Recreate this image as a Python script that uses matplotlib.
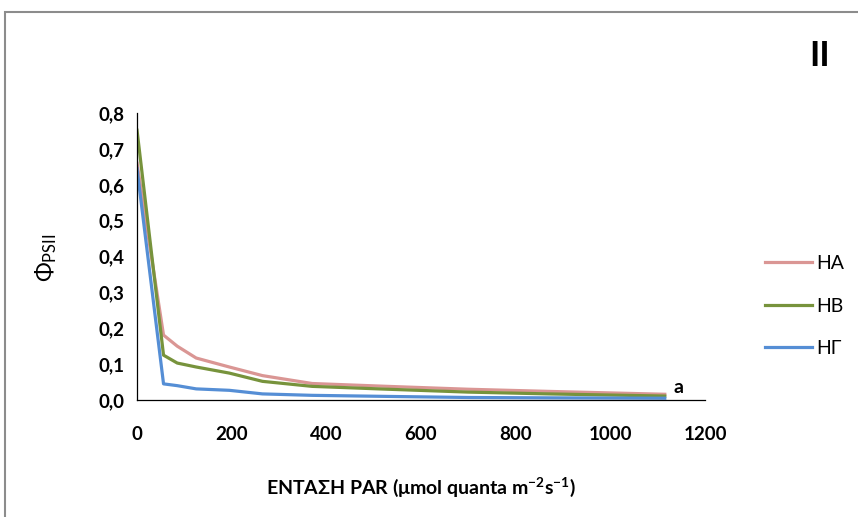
import matplotlib
matplotlib.use("Agg")
import matplotlib.pyplot as plt
from matplotlib.patches import Rectangle
from matplotlib.ticker import FuncFormatter

plt.rcParams['font.family'] = ['Lato', 'DejaVu Sans']
plt.rcParams['mathtext.default'] = 'regular'

# PAR intensity (umol quanta m-2 s-1)
par = [0, 56, 85, 125, 195, 265, 370, 530, 700, 870, 1115]
ha = [0.660, 0.181, 0.150, 0.117, 0.092, 0.068, 0.046, 0.038, 0.030, 0.024, 0.016]
hb = [0.752, 0.125, 0.103, 0.092, 0.075, 0.052, 0.038, 0.030, 0.022, 0.017, 0.011]
hg = [0.645, 0.045, 0.040, 0.031, 0.027, 0.017, 0.013, 0.010, 0.007, 0.006, 0.005]
labels = ['ΗΑ', 'ΗΒ', 'ΗΓ']
colors = ['#DA9694', '#77933C', '#558ED5']

fig = plt.figure(figsize=(8.58, 5.17), dpi=100)
ax = fig.add_axes([0.1597, 0.2263, 0.662, 0.5551])

for y, lab, c in zip([ha, hb, hg], labels, colors):
    ax.plot(par, y, color=c, lw=2.3, label=lab)

ax.set_xlim(0, 1200)
ax.set_ylim(0, 0.8)
ax.set_xticks(range(0, 1201, 200))
ax.set_yticks([i / 10 for i in range(9)])
ax.yaxis.set_major_formatter(FuncFormatter(lambda v, p: f"{v:.1f}".replace('.', ',')))
ax.tick_params(length=0, labelsize=13.5, pad=9)
for t in ax.get_xticklabels() + ax.get_yticklabels():
    t.set_fontweight('bold')
ax.tick_params(axis='x', pad=19)
for s in ['top', 'right']:
    ax.spines[s].set_visible(False)
for s in ['left', 'bottom']:
    ax.spines[s].set_color('black')
    ax.spines[s].set_linewidth(0.9)

fig.text(421 / 858, 1 - 487 / 517, 'ΕΝΤΑΣΗ PAR (μmol quanta m$^{-2}$s$^{-1}$)',
         ha='center', va='center', fontsize=14, fontweight='bold')
fig.text(46 / 858, 1 - 258 / 517, r'Φ$_{PSII}$', rotation=90,
         ha='center', va='center', fontsize=17)
fig.text(820 / 858, 1 - 56 / 517, 'II', ha='center', va='center',
         fontsize=25, fontweight='bold')
ax.text(1145, 0.012, 'a', ha='center', va='bottom', fontsize=14, fontweight='bold')

ax.legend(loc='center left', bbox_to_anchor=(765 / 858, 1 - 306 / 517),
          bbox_transform=fig.transFigure, borderpad=0, borderaxespad=0,
          frameon=False, fontsize=14, handlelength=2.4, handletextpad=0.25,
          labelspacing=1.3)

fig.add_artist(Rectangle((5 / 858, -0.1), 1.2, 1.1 - 12 / 517,
                         transform=fig.transFigure, fill=False,
                         edgecolor='#8C8C8C', lw=1.5))

fig.savefig('out.png', dpi=100)
